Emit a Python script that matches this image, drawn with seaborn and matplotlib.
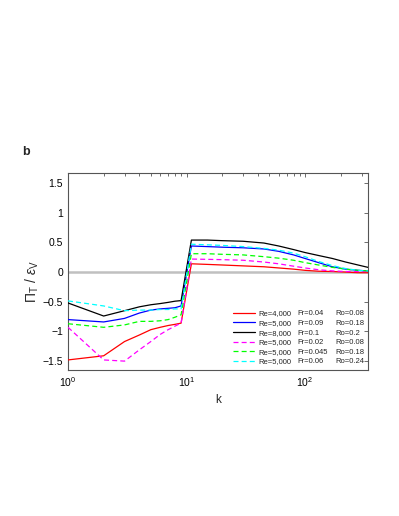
import numpy as np
import pandas as pd
import matplotlib
matplotlib.use("Agg")
import matplotlib.pyplot as plt
import seaborn as sns
from matplotlib.ticker import FixedLocator, FuncFormatter, LogLocator, NullFormatter

sns.set_style("white")
plt.rcParams['font.family'] = ['Liberation Sans', 'DejaVu Sans']
plt.rcParams['mathtext.fontset'] = 'custom'
plt.rcParams['mathtext.rm'] = 'Liberation Sans'
plt.rcParams['mathtext.it'] = 'Liberation Sans:italic'

# ---- data ----
k_vals = [1, 2, 3, 4, 5, 6, 7, 8, 9, 11, 15, 20, 30, 45, 60, 80, 100, 130, 170, 220, 280, 340]

red_vals = [-1.48, -1.41, -1.17, -1.06, -0.97, -0.93, -0.90, -0.88, -0.86,
            0.14, 0.13, 0.12, 0.105, 0.09, 0.07, 0.05, 0.03, 0.015, 0.01, 0.0, -0.01, -0.01]
blue_vals = [-0.80, -0.84, -0.78, -0.69, -0.64, -0.62, -0.61, -0.60, -0.57,
             0.44, 0.43, 0.42, 0.41, 0.39, 0.35, 0.29, 0.23, 0.16, 0.09, 0.05, 0.03, 0.02]
black_vals = [-0.52, -0.74, -0.65, -0.585, -0.55, -0.53, -0.51, -0.49, -0.48,
              0.54, 0.54, 0.53, 0.52, 0.49, 0.44, 0.38, 0.33, 0.28, 0.23, 0.17, 0.12, 0.08]
magenta_vals = [-0.93, -1.48, -1.50, -1.31, -1.17, -1.05, -0.97, -0.91, -0.86,
                0.22, 0.215, 0.21, 0.20, 0.17, 0.14, 0.10, 0.07, 0.04, 0.02, 0.01, 0.01, 0.01]
green_vals = [-0.87, -0.93, -0.89, -0.83, -0.83, -0.82, -0.80, -0.76, -0.72,
              0.31, 0.31, 0.30, 0.29, 0.26, 0.235, 0.20, 0.16, 0.12, 0.08, 0.05, 0.03, 0.02]
cyan_vals = [-0.485, -0.57, -0.65, -0.64, -0.64, -0.63, -0.63, -0.62, -0.62,
             0.47, 0.46, 0.45, 0.43, 0.40, 0.37, 0.32, 0.26, 0.18, 0.11, 0.06, 0.03, 0.02]

re_labels = ["Re=4,000", "Re=5,000", "Re=8,000", "Re=5,000", "Re=5,000", "Re=5,000"]
fr_labels = ["Fr=0.04", "Fr=0.09", "Fr=0.1", "Fr=0.02", "Fr=0.045", "Fr=0.06"]
ro_labels = ["Ro=0.08", "Ro=0.18", "Ro=0.2", "Ro=0.08", "Ro=0.18", "Ro=0.24"]

y_ticks = [-1.5, -1, -0.5, 0, 0.5, 1, 1.5]

series = [red_vals, blue_vals, black_vals, magenta_vals, green_vals, cyan_vals]
colors = ['#ff0000', '#0000ff', '#000000', '#ff00ff', '#00ff00', '#00ffff']
dashed = [False, False, False, True, True, True]

frames = []
for i, vals in enumerate(series):
    frames.append(pd.DataFrame({'k': k_vals, 'val': vals, 'series': i}))
df = pd.concat(frames, ignore_index=True)

fig = plt.figure(figsize=(3.99, 5.16), dpi=100)
ax = fig.add_axes([0.1704, 0.2829, 0.7519, 0.3818])

ax.axhline(0, color='#c0c0c0', lw=1.8, zorder=1)

handles = []
for i in range(len(series)):
    sub = df[df['series'] == i]
    sns.lineplot(data=sub, x='k', y='val', ax=ax, color=colors[i], lw=0.9,
                 linestyle=(0, (4, 2.5)) if dashed[i] else '-', sort=False,
                 estimator=None, zorder=3)
    handles.append(ax.lines[-1])

ax.set_xscale('log')
ax.set_xlim(1, 340)
ax.set_ylim(-1.65, 1.67)
ax.yaxis.set_major_locator(FixedLocator(y_ticks))
ax.yaxis.set_major_formatter(FuncFormatter(lambda v, p: ('%g' % v).replace('-', '\u2212')))
ax.xaxis.set_major_locator(LogLocator(base=10))
ax.xaxis.set_minor_locator(LogLocator(base=10, subs=np.arange(2, 10)))
ax.xaxis.set_minor_formatter(NullFormatter())

for sp in ax.spines.values():
    sp.set_color('#555555')
    sp.set_linewidth(0.8)
ax.tick_params(which='both', direction='in', top=True, right=True, colors='#555555',
               labelcolor='black', labelsize=7.5, width=0.6)
ax.tick_params(which='major', length=3)
ax.tick_params(which='minor', length=1.8)

ax.set_xlabel('k', fontsize=8.5, labelpad=4)
ax.set_ylabel(r'$\Pi_\mathrm{T}\ /\ \epsilon_\mathrm{V}$', fontsize=10)
ax.yaxis.set_label_coords(-0.09, 0.45)

leg = ax.legend(handles, re_labels, loc='upper left', bbox_to_anchor=(0.55, 0.305),
                frameon=False, fontsize=5.5, handlelength=2.9, handletextpad=0.4,
                labelspacing=0.3, borderpad=0, borderaxespad=0)

fig.canvas.draw()
inv = ax.transAxes.inverted()
for i, t in enumerate(leg.get_texts()):
    bb = t.get_window_extent()
    yc = inv.transform(((bb.x0 + bb.x1) / 2, (bb.y0 + bb.y1) / 2))[1]
    ax.text(0.766, yc, fr_labels[i], transform=ax.transAxes, fontsize=5.5, va='center', ha='left')
    ax.text(0.89, yc, ro_labels[i], transform=ax.transAxes, fontsize=5.5, va='center', ha='left')

fig.text(22 / 399, 1 - 152 / 516, 'b', fontsize=9, fontweight='bold', ha='left', va='center')

fig.savefig('out.png', dpi=100)
